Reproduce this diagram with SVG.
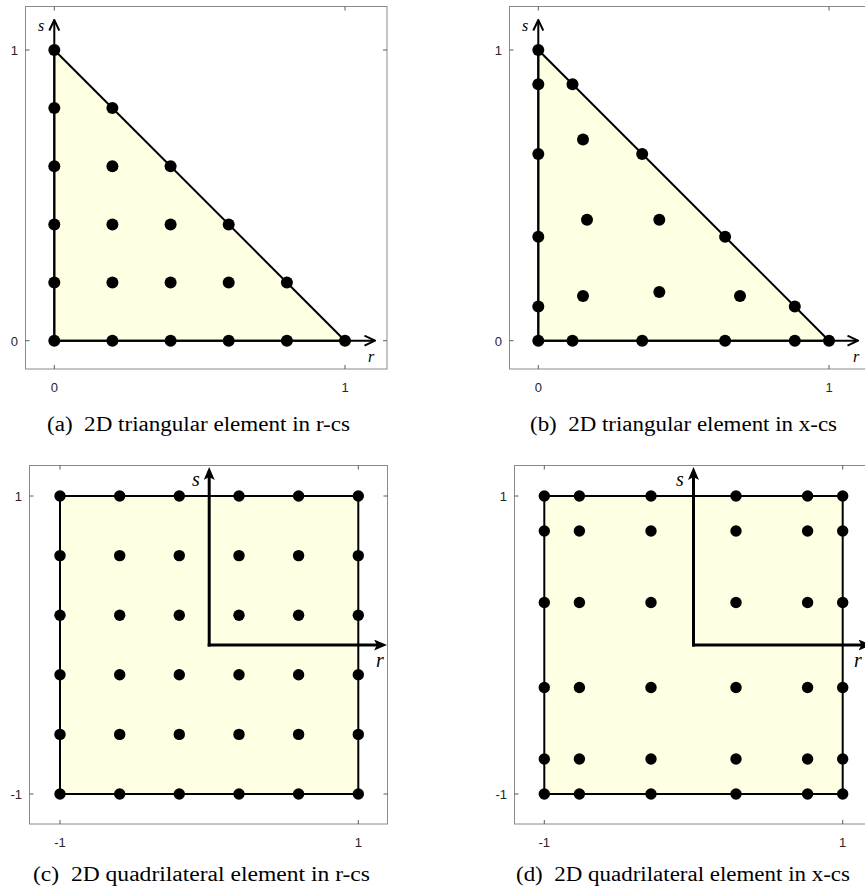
<svg xmlns="http://www.w3.org/2000/svg" width="865" height="890" viewBox="0 0 865 890">
<style>
.bg{fill:#ffffff}
.box{fill:none;stroke:#8a8a8a;stroke-width:1}
.tick{stroke:#5a5a5a;stroke-width:1}
.tl{font-family:"Liberation Sans",Arial,sans-serif;font-size:13px;fill:#262626}
.shape{fill:#ffffe4;stroke:#000;stroke-width:2;stroke-linejoin:round}
.dot{fill:#000}
.ax1{stroke:#000;stroke-width:2;fill:none}
.ax2{stroke:#000;stroke-width:3;fill:none}
.al{font-family:"Liberation Serif","Times New Roman",serif;font-style:italic;fill:#000}
.cap{font-family:"Liberation Serif","Times New Roman",serif;font-size:20px;fill:#000;white-space:pre}
</style>
<defs>
<marker id="chev" viewBox="0 0 12 12" refX="10" refY="6" markerWidth="12" markerHeight="12" markerUnits="userSpaceOnUse" orient="auto">
<path d="M0.5,1 L11,6 L0.5,11" fill="none" stroke="#000" stroke-width="2" stroke-linejoin="miter"/>
</marker>
<marker id="solid" viewBox="0 0 13 11" refX="9" refY="5.5" markerWidth="13" markerHeight="11" markerUnits="userSpaceOnUse" orient="auto">
<path d="M0,0 L13,5.5 L0,11 L3,5.5 Z" fill="#000"/>
</marker>
</defs>
<rect class="bg" x="0" y="0" width="865" height="890"/>

<!-- Panel (a) -->
<g id="panel-a">
<rect class="box" x="25.5" y="6.5" width="361.5" height="362.5"/>
<g class="tick">
<line x1="54.3" y1="369" x2="54.3" y2="365"/><line x1="345" y1="369" x2="345" y2="365"/>
<line x1="54.3" y1="6.5" x2="54.3" y2="10.5"/><line x1="345" y1="6.5" x2="345" y2="10.5"/>
<line x1="25.5" y1="50" x2="29.5" y2="50"/><line x1="25.5" y1="340.7" x2="29.5" y2="340.7"/>
<line x1="387" y1="50" x2="383" y2="50"/><line x1="387" y1="340.7" x2="383" y2="340.7"/>
</g>
<g class="tl">
<text x="54.3" y="392" text-anchor="middle">0</text>
<text x="345" y="392" text-anchor="middle">1</text>
<text x="18" y="55" text-anchor="end">1</text>
<text x="18" y="345.5" text-anchor="end">0</text>
</g>
<polygon id="tri-a" class="shape" points="54.3,340.7 345,340.7 54.3,50"/>
<g id="nodes-a" class="dot">
<circle cx="54.3" cy="340.7" r="6"/><circle cx="112.4" cy="340.7" r="6"/><circle cx="170.6" cy="340.7" r="6"/><circle cx="228.7" cy="340.7" r="6"/><circle cx="286.9" cy="340.7" r="6"/><circle cx="345" cy="340.7" r="6"/>
<circle cx="54.3" cy="282.6" r="6"/><circle cx="112.4" cy="282.6" r="6"/><circle cx="170.6" cy="282.6" r="6"/><circle cx="228.7" cy="282.6" r="6"/><circle cx="286.9" cy="282.6" r="6"/>
<circle cx="54.3" cy="224.4" r="6"/><circle cx="112.4" cy="224.4" r="6"/><circle cx="170.6" cy="224.4" r="6"/><circle cx="228.7" cy="224.4" r="6"/>
<circle cx="54.3" cy="166.3" r="6"/><circle cx="112.4" cy="166.3" r="6"/><circle cx="170.6" cy="166.3" r="6"/>
<circle cx="54.3" cy="108.1" r="6"/><circle cx="112.4" cy="108.1" r="6"/>
<circle cx="54.3" cy="50" r="6"/>
</g>
<text class="al" x="41" y="31" font-size="16" text-anchor="middle">s</text>
<text class="al" x="371" y="362" font-size="16" text-anchor="middle">r</text>
<text class="cap" x="47" y="431" textLength="303" lengthAdjust="spacingAndGlyphs">(a)  2D triangular element in r-cs</text>
</g>

<!-- Panel (b) -->
<g id="panel-b">
<rect class="box" x="509.5" y="6.5" width="400" height="362.5"/>
<g class="tick">
<line x1="538.3" y1="369" x2="538.3" y2="365"/><line x1="829" y1="369" x2="829" y2="365"/>
<line x1="538.3" y1="6.5" x2="538.3" y2="10.5"/><line x1="829" y1="6.5" x2="829" y2="10.5"/>
<line x1="509.5" y1="50" x2="513.5" y2="50"/><line x1="509.5" y1="340.7" x2="513.5" y2="340.7"/>
</g>
<g class="tl">
<text x="538.3" y="392" text-anchor="middle">0</text>
<text x="829" y="392" text-anchor="middle">1</text>
<text x="502" y="55" text-anchor="end">1</text>
<text x="502" y="345.5" text-anchor="end">0</text>
</g>
<polygon id="tri-b" class="shape" points="538.3,340.7 829,340.7 538.3,50"/>
<g id="nodes-b" class="dot">
<circle cx="538.3" cy="340.7" r="6"/><circle cx="572.5" cy="340.7" r="6"/><circle cx="642.2" cy="340.7" r="6"/><circle cx="725.1" cy="340.7" r="6"/><circle cx="794.8" cy="340.7" r="6"/><circle cx="829" cy="340.7" r="6"/>
<circle cx="538.3" cy="306.5" r="6"/><circle cx="538.3" cy="236.8" r="6"/><circle cx="538.3" cy="153.9" r="6"/><circle cx="538.3" cy="84.2" r="6"/><circle cx="538.3" cy="50" r="6"/>
<circle cx="572.5" cy="84.2" r="6"/><circle cx="642.2" cy="153.9" r="6"/><circle cx="725.1" cy="236.8" r="6"/><circle cx="794.8" cy="306.5" r="6"/>
<circle cx="583" cy="139.4" r="6"/><circle cx="583" cy="296" r="6"/><circle cx="740" cy="296" r="6"/>
<circle cx="659.3" cy="292" r="6"/><circle cx="587" cy="219.7" r="6"/><circle cx="659.3" cy="219.7" r="6"/>
</g>
<text class="al" x="525" y="31" font-size="16" text-anchor="middle">s</text>
<text class="al" x="856" y="362" font-size="16" text-anchor="middle">r</text>
<text class="cap" x="530" y="431" textLength="307" lengthAdjust="spacingAndGlyphs">(b)  2D triangular element in x-cs</text>
</g>

<!-- Panel (c) -->
<g id="panel-c">
<rect class="box" x="29.5" y="465.5" width="358" height="358.5"/>
<g class="tick">
<line x1="60" y1="824" x2="60" y2="820"/><line x1="358.3" y1="824" x2="358.3" y2="820"/>
<line x1="60" y1="465.5" x2="60" y2="469.5"/><line x1="358.3" y1="465.5" x2="358.3" y2="469.5"/>
<line x1="29.5" y1="496" x2="33.5" y2="496"/><line x1="29.5" y1="794" x2="33.5" y2="794"/>
<line x1="387.5" y1="496" x2="383.5" y2="496"/><line x1="387.5" y1="794" x2="383.5" y2="794"/>
</g>
<g class="tl">
<text x="60" y="847" text-anchor="middle">-1</text>
<text x="358.3" y="847" text-anchor="middle">1</text>
<text x="22" y="501" text-anchor="end">1</text>
<text x="22" y="799" text-anchor="end">-1</text>
</g>
<rect id="quad-c" class="shape" x="60" y="496" width="298.3" height="298"/>
<g id="nodes-c" class="dot">
<circle cx="60" cy="496" r="5.7"/><circle cx="119.7" cy="496" r="5.7"/><circle cx="179.3" cy="496" r="5.7"/><circle cx="239" cy="496" r="5.7"/><circle cx="298.6" cy="496" r="5.7"/><circle cx="358.3" cy="496" r="5.7"/>
<circle cx="60" cy="555.6" r="5.7"/><circle cx="119.7" cy="555.6" r="5.7"/><circle cx="179.3" cy="555.6" r="5.7"/><circle cx="239" cy="555.6" r="5.7"/><circle cx="298.6" cy="555.6" r="5.7"/><circle cx="358.3" cy="555.6" r="5.7"/>
<circle cx="60" cy="615.2" r="5.7"/><circle cx="119.7" cy="615.2" r="5.7"/><circle cx="179.3" cy="615.2" r="5.7"/><circle cx="239" cy="615.2" r="5.7"/><circle cx="298.6" cy="615.2" r="5.7"/><circle cx="358.3" cy="615.2" r="5.7"/>
<circle cx="60" cy="674.8" r="5.7"/><circle cx="119.7" cy="674.8" r="5.7"/><circle cx="179.3" cy="674.8" r="5.7"/><circle cx="239" cy="674.8" r="5.7"/><circle cx="298.6" cy="674.8" r="5.7"/><circle cx="358.3" cy="674.8" r="5.7"/>
<circle cx="60" cy="734.4" r="5.7"/><circle cx="119.7" cy="734.4" r="5.7"/><circle cx="179.3" cy="734.4" r="5.7"/><circle cx="239" cy="734.4" r="5.7"/><circle cx="298.6" cy="734.4" r="5.7"/><circle cx="358.3" cy="734.4" r="5.7"/>
<circle cx="60" cy="794" r="5.7"/><circle cx="119.7" cy="794" r="5.7"/><circle cx="179.3" cy="794" r="5.7"/><circle cx="239" cy="794" r="5.7"/><circle cx="298.6" cy="794" r="5.7"/><circle cx="358.3" cy="794" r="5.7"/>
</g>
<text class="al" x="196" y="486" font-size="20" text-anchor="middle">s</text>
<text class="al" x="380" y="667" font-size="20" text-anchor="middle">r</text>
<text class="cap" x="33" y="881" textLength="337" lengthAdjust="spacingAndGlyphs">(c)  2D quadrilateral element in r-cs</text>
</g>

<!-- Panel (d) -->
<g id="panel-d">
<rect class="box" x="514.5" y="465.5" width="400" height="358.5"/>
<g class="tick">
<line x1="544.3" y1="824" x2="544.3" y2="820"/><line x1="842.7" y1="824" x2="842.7" y2="820"/>
<line x1="544.3" y1="465.5" x2="544.3" y2="469.5"/><line x1="842.7" y1="465.5" x2="842.7" y2="469.5"/>
<line x1="514.5" y1="496" x2="518.5" y2="496"/><line x1="514.5" y1="794" x2="518.5" y2="794"/>
</g>
<g class="tl">
<text x="544.3" y="847" text-anchor="middle">-1</text>
<text x="842.7" y="847" text-anchor="middle">1</text>
<text x="507" y="501" text-anchor="end">1</text>
<text x="507" y="799" text-anchor="end">-1</text>
</g>
<rect id="quad-d" class="shape" x="544.3" y="496" width="298.4" height="298"/>
<g id="nodes-d" class="dot">
<circle cx="544.3" cy="496" r="5.7"/><circle cx="579.4" cy="496" r="5.7"/><circle cx="651" cy="496" r="5.7"/><circle cx="736" cy="496" r="5.7"/><circle cx="807.6" cy="496" r="5.7"/><circle cx="842.7" cy="496" r="5.7"/>
<circle cx="544.3" cy="531" r="5.7"/><circle cx="579.4" cy="531" r="5.7"/><circle cx="651" cy="531" r="5.7"/><circle cx="736" cy="531" r="5.7"/><circle cx="807.6" cy="531" r="5.7"/><circle cx="842.7" cy="531" r="5.7"/>
<circle cx="544.3" cy="602.5" r="5.7"/><circle cx="579.4" cy="602.5" r="5.7"/><circle cx="651" cy="602.5" r="5.7"/><circle cx="736" cy="602.5" r="5.7"/><circle cx="807.6" cy="602.5" r="5.7"/><circle cx="842.7" cy="602.5" r="5.7"/>
<circle cx="544.3" cy="687.5" r="5.7"/><circle cx="579.4" cy="687.5" r="5.7"/><circle cx="651" cy="687.5" r="5.7"/><circle cx="736" cy="687.5" r="5.7"/><circle cx="807.6" cy="687.5" r="5.7"/><circle cx="842.7" cy="687.5" r="5.7"/>
<circle cx="544.3" cy="759" r="5.7"/><circle cx="579.4" cy="759" r="5.7"/><circle cx="651" cy="759" r="5.7"/><circle cx="736" cy="759" r="5.7"/><circle cx="807.6" cy="759" r="5.7"/><circle cx="842.7" cy="759" r="5.7"/>
<circle cx="544.3" cy="794" r="5.7"/><circle cx="579.4" cy="794" r="5.7"/><circle cx="651" cy="794" r="5.7"/><circle cx="736" cy="794" r="5.7"/><circle cx="807.6" cy="794" r="5.7"/><circle cx="842.7" cy="794" r="5.7"/>
</g>
<text class="al" x="680" y="486" font-size="20" text-anchor="middle">s</text>
<text class="al" x="858" y="667" font-size="20" text-anchor="middle">r</text>
<text class="cap" x="516" y="881" textLength="334" lengthAdjust="spacingAndGlyphs">(d)  2D quadrilateral element in x-cs</text>
</g>

<!-- Connectors: coordinate axes -->
<g id="connectors">
<line class="ax1" x1="54.3" y1="341.7" x2="54.3" y2="21" marker-end="url(#chev)"/>
<line class="ax1" x1="53.3" y1="340.7" x2="374" y2="340.7" marker-end="url(#chev)"/>
<line class="ax1" x1="538.3" y1="341.7" x2="538.3" y2="21" marker-end="url(#chev)"/>
<line class="ax1" x1="537.3" y1="340.7" x2="857" y2="340.7" marker-end="url(#chev)"/>
<line class="ax2" x1="209.2" y1="646.5" x2="209.2" y2="471" marker-end="url(#solid)"/>
<line class="ax2" x1="207.7" y1="645" x2="383" y2="645" marker-end="url(#solid)"/>
<line class="ax2" x1="693.5" y1="646.5" x2="693.5" y2="471" marker-end="url(#solid)"/>
<line class="ax2" x1="692" y1="645" x2="867.5" y2="645" marker-end="url(#solid)"/>
</g>
</svg>
